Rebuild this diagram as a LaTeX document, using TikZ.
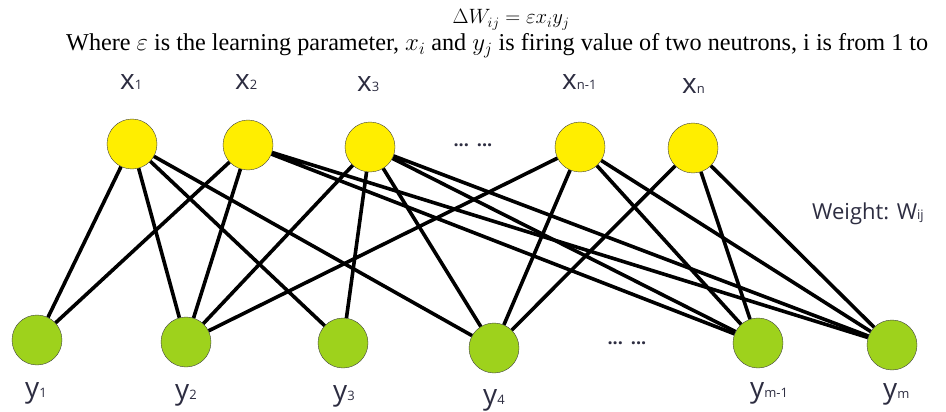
\documentclass[tikz,border=0pt]{standalone}
\usepackage{fontspec}
\setmainfont{Liberation Serif}
\newfontfamily\labfont{Open Sans}
\definecolor{xfill}{RGB}{255,238,0}
\definecolor{yfill}{RGB}{158,210,28}
\definecolor{labcol}{RGB}{45,45,65}
\newcommand{\lab}[2]{#1{\fontsize{13}{13}\selectfont #2}}
\tikzset{
    xneuron/.style={circle, draw=black!75, fill=xfill, minimum size=50pt, inner sep=0pt},
    yneuron/.style={circle, draw=black!75, fill=yfill, minimum size=50pt, inner sep=0pt},
    neulabel/.style={anchor=base west, text=labcol, inner sep=0pt, font=\labfont\fontsize{28}{28}\selectfont},
    dotsgap/.style={text=labcol, inner sep=0pt, font=\labfont\bfseries\fontsize{18}{18}\selectfont},
    weight/.style={line width=3.6pt}
}
\begin{document}
\begin{tikzpicture}[x=1pt, y=-1pt]
        \useasboundingbox (0,0) rectangle (946,412);
        % formula and text line
        \node[anchor=base, inner sep=0pt, font=\fontsize{22}{24}\selectfont] (rule) at (511,24) {$\Delta W_{ij} = \varepsilon x_i y_j$};
        \node[anchor=base west, inner sep=0pt, font=\fontsize{24.2}{28}\selectfont] (where) at (66,51)
            {Where $\varepsilon$ is the learning parameter, $x_i$ and $y_j$ is firing value of two neutrons, i is from 1 to};
        % input neurons
        \node[xneuron] (x1) at (132,144) {};
        \node[xneuron] (x2) at (248,145) {};
        \node[xneuron] (x3) at (370,147) {};
        \node[xneuron] (xn1) at (580,147) {};
        \node[xneuron] (xn) at (693,148) {};
        % output neurons
        \node[yneuron] (y1) at (37,340) {};
        \node[yneuron] (y2) at (186,342) {};
        \node[yneuron] (y3) at (343,343) {};
        \node[yneuron] (y4) at (494,348) {};
        \node[yneuron] (ym1) at (758,343) {};
        \node[yneuron] (ym) at (892,345) {};
        % connections
        \draw[weight] (x1) -- (y1) (x1) -- (y2) (x1) -- (y3) (x1) -- (y4);
        \draw[weight] (x2) -- (y1) (x2) -- (y2) (x2) -- (ym1) (x2) -- (ym);
        \draw[weight] (x3) -- (y2) (x3) -- (y3) (x3) -- (y4) (x3) -- (ym1) (x3) -- (ym);
        \draw[weight] (xn1) -- (y2) (xn1) -- (y4) (xn1) -- (ym1) (xn1) -- (ym);
        \draw[weight] (xn) -- (y4) (xn) -- (ym1) (xn) -- (ym);
        % labels
        \node[neulabel] (lx1) at (120,90) {\lab{x}{1}};
        \node[neulabel] (lx2) at (235,90) {\lab{x}{2}};
        \node[neulabel] (lx3) at (357,92) {\lab{x}{3}};
        \node[neulabel] (lxn1) at (562,90) {\lab{x}{n-1}};
        \node[neulabel] (lxn) at (682,93) {\lab{x}{n}};
        \node[neulabel] (ly1) at (25,397) {\lab{y}{1}};
        \node[neulabel] (ly2) at (175,399) {\lab{y}{2}};
        \node[neulabel] (ly3) at (333,400) {\lab{y}{3}};
        \node[neulabel] (ly4) at (483,404) {\lab{y}{4}};
        \node[neulabel] (lym1) at (750,397) {\lab{y}{m-1}};
        \node[neulabel] (lym) at (883,398) {\lab{y}{m}};
        \node[anchor=base west, text=labcol, inner sep=0pt, font=\labfont\fontsize{22}{22}\selectfont] (wlab) at (812,219) {Weight: \lab{W}{ij}};
        \node[dotsgap] (dotsx) at (473,145) {...\hspace{8pt}...};
        \node[dotsgap] (dotsy) at (627,343) {...\hspace{8pt}...};
    \end{tikzpicture}
\end{document}
